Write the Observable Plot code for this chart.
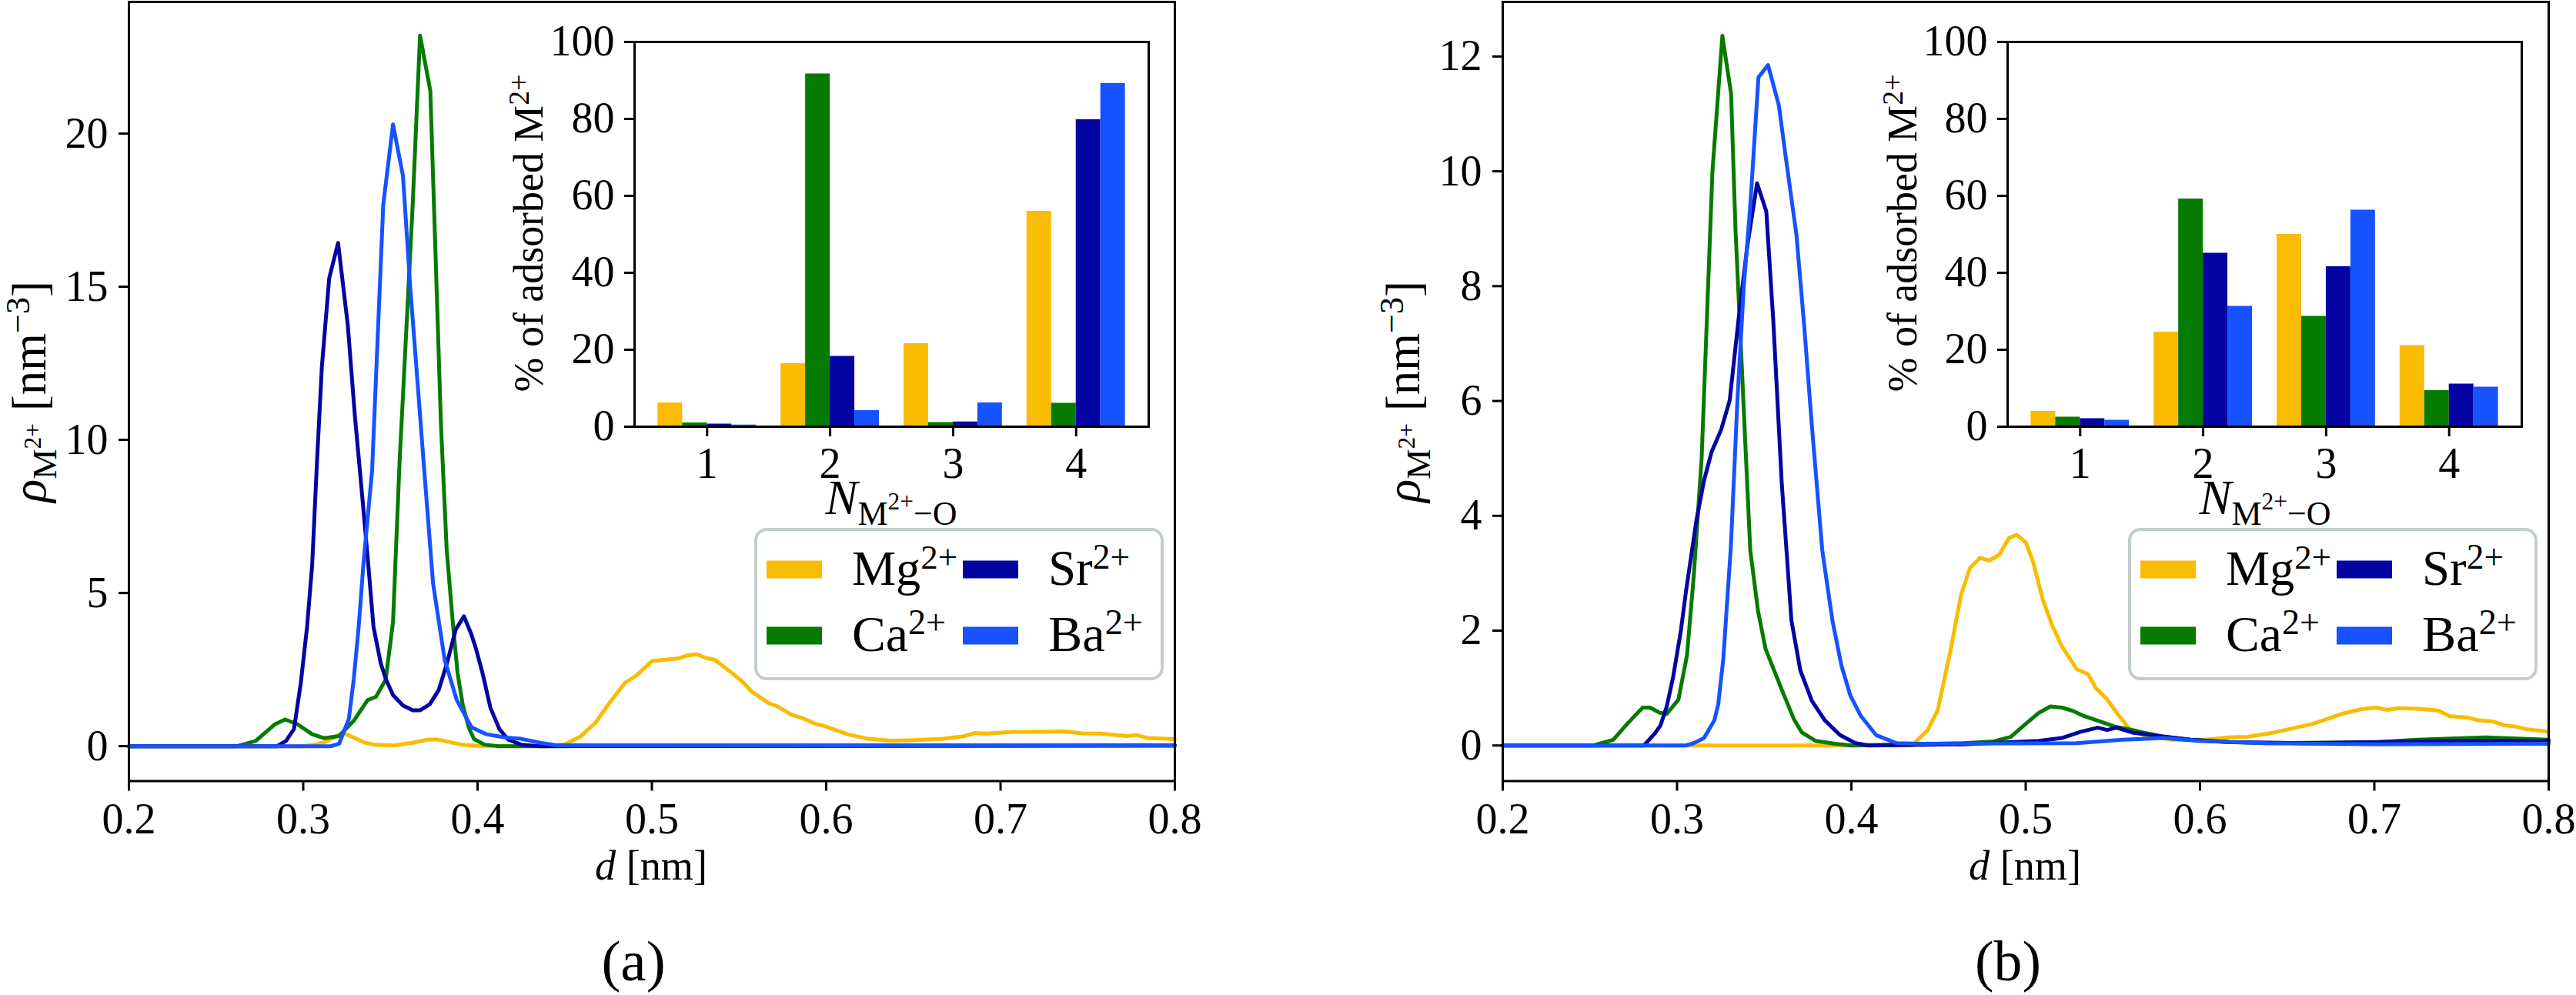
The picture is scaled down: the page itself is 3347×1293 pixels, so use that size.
<!DOCTYPE html>
<html>
<head>
<meta charset="utf-8">
<script src="https://cdn.jsdelivr.net/npm/d3@7"></script>
<script src="https://cdn.jsdelivr.net/npm/@observablehq/plot@0.6"></script>
<style>
  html, body { margin: 0; padding: 0; background: #fff; }
  #fig { position: relative; width: 3347px; height: 1293px; overflow: hidden; background: #fff; }
  #fig > svg { position: absolute; }
</style>
</head>
<body>
<div id="fig"></div>
<script>
// ---------------------------------------------------------------------------
// Ions and their colours
const ionNames = ["Mg2+", "Ca2+", "Sr2+", "Ba2+"];
const ionLabels = ["Mg", "Ca", "Sr", "Ba"];
const ionColors = ["#f9bc00", "#077a00", "#0404a3", "#1652ff"];

// Coordination numbers N(M2+-O) shown in the insets
const coordNumbers = [1, 2, 3, 4];

// Axis ticks
const dTicks = [0.2, 0.3, 0.4, 0.5, 0.6, 0.7, 0.8];
const rhoTicksA = [0, 5, 10, 15, 20];
const rhoTicksB = [0, 2, 4, 6, 8, 10, 12];
const shareTicks = [0, 20, 40, 60, 80, 100];

// ---------------------------------------------------------------------------
// Panel (a): density profiles rho(d), pairs of [d (nm), rho (nm^-3)]
const rhoA_Mg = [[0.200,0],[0.300,0],[0.306,0.05],[0.312,0.12],[0.318,0.30],[0.3234,0.42],[0.329,0.28],[0.335,0.12],[0.3403,0.05],[0.352,0.02],[0.3628,0.11],[0.3712,0.21],[0.3769,0.22],[0.3825,0.15],[0.391,0.05],[0.400,0.01],[0.440,0],[0.450,0.06],[0.4589,0.31],[0.4677,0.77],[0.4765,1.48],[0.4846,2.07],[0.4913,2.32],[0.5001,2.78],[0.5148,2.86],[0.5207,2.97],[0.5258,3.0],[0.531,2.88],[0.5361,2.82],[0.5457,2.4],[0.5511,2.15],[0.5573,1.78],[0.5671,1.4],[0.5715,1.31],[0.5804,1.02],[0.5866,0.91],[0.5937,0.73],[0.5981,0.67],[0.6123,0.39],[0.6229,0.25],[0.6371,0.18],[0.6513,0.2],[0.6672,0.24],[0.6797,0.33],[0.685,0.43],[0.6921,0.41],[0.7063,0.46],[0.7364,0.48],[0.747,0.42],[0.7577,0.41],[0.7718,0.33],[0.7781,0.36],[0.7843,0.27],[0.800,0.23]];
const rhoA_Ca = [[0.200,0],[0.262,0],[0.2727,0.17],[0.2839,0.72],[0.2896,0.87],[0.2966,0.72],[0.3051,0.39],[0.3121,0.26],[0.3205,0.33],[0.329,0.83],[0.3369,1.5],[0.3417,1.61],[0.3473,2.17],[0.3515,4.05],[0.3552,9.2],[0.3628,17.7],[0.367,23.2],[0.3729,21.4],[0.379,10.5],[0.3823,6.4],[0.386,3.9],[0.3885,2.4],[0.3915,1.35],[0.395,0.6],[0.398,0.23],[0.404,0.05],[0.412,0],[0.800,0.02]];
const rhoA_Sr = [[0.200,0],[0.285,0],[0.2901,0.17],[0.2947,0.56],[0.2986,2.06],[0.3022,3.9],[0.3051,5.9],[0.3079,9.3],[0.3107,12.4],[0.3149,15.28],[0.320,16.43],[0.3256,13.72],[0.3296,10.8],[0.3341,8.0],[0.3375,5.8],[0.3403,3.9],[0.3445,2.7],[0.3473,2.2],[0.3515,1.67],[0.3572,1.33],[0.3628,1.17],[0.367,1.17],[0.3726,1.37],[0.3777,1.83],[0.3825,2.72],[0.3875,3.81],[0.3922,4.24],[0.3963,3.67],[0.399,3.2],[0.403,2.35],[0.4074,1.25],[0.4125,0.56],[0.4177,0.21],[0.425,0.05],[0.435,0],[0.800,0.02]];
const rhoA_Ba = [[0.200,0],[0.316,0],[0.3206,0.08],[0.3262,0.9],[0.329,2.2],[0.3318,3.9],[0.3346,6.0],[0.3395,9.0],[0.3459,17.68],[0.3515,20.3],[0.3572,18.62],[0.3614,14.97],[0.3656,11.85],[0.3698,8.72],[0.3745,5.3],[0.3811,2.83],[0.3881,1.5],[0.3966,0.61],[0.405,0.39],[0.4163,0.28],[0.425,0.24],[0.436,0.11],[0.445,0.03],[0.800,0.02]];

// Panel (b): density profiles rho(d)
const rhoB_Mg = [[0.200,0],[0.435,0],[0.4381,0.1],[0.4436,0.26],[0.4495,0.61],[0.4569,1.66],[0.4628,2.61],[0.468,3.09],[0.4738,3.27],[0.479,3.22],[0.4848,3.32],[0.4903,3.61],[0.4947,3.67],[0.500,3.54],[0.5044,3.18],[0.5098,2.54],[0.5152,2.09],[0.5207,1.73],[0.5293,1.33],[0.5359,1.24],[0.5402,1.0],[0.5467,0.8],[0.5532,0.53],[0.5598,0.28],[0.5684,0.17],[0.5836,0.1],[0.6031,0.1],[0.6162,0.14],[0.627,0.15],[0.640,0.21],[0.6487,0.27],[0.6639,0.37],[0.6748,0.48],[0.6813,0.55],[0.6921,0.63],[0.7008,0.66],[0.7073,0.62],[0.7139,0.65],[0.7247,0.64],[0.7366,0.61],[0.7432,0.51],[0.7529,0.49],[0.7594,0.44],[0.7681,0.42],[0.7746,0.35],[0.781,0.33],[0.7876,0.28],[0.800,0.24]];
const rhoB_Ca = [[0.200,0],[0.252,0],[0.2634,0.1],[0.2718,0.39],[0.2803,0.66],[0.2845,0.66],[0.2901,0.57],[0.2941,0.55],[0.3008,0.8],[0.3057,1.57],[0.3096,2.96],[0.3141,5.0],[0.3203,10.0],[0.326,12.36],[0.331,11.35],[0.3335,9.0],[0.3361,7.3],[0.3391,5.3],[0.342,3.4],[0.3464,2.35],[0.3508,1.68],[0.3597,1.0],[0.367,0.46],[0.3715,0.23],[0.3795,0.08],[0.3906,0.03],[0.400,0],[0.4643,0.04],[0.4816,0.07],[0.4914,0.15],[0.499,0.35],[0.5076,0.57],[0.5142,0.68],[0.5207,0.66],[0.5272,0.6],[0.5337,0.51],[0.5424,0.42],[0.5511,0.33],[0.5598,0.28],[0.5684,0.22],[0.5793,0.15],[0.5945,0.1],[0.6162,0.06],[0.638,0.04],[0.703,0.06],[0.7247,0.1],[0.7638,0.14],[0.800,0.1]];
const rhoB_Sr = [[0.200,0],[0.281,0],[0.2831,0.07],[0.2875,0.22],[0.2905,0.35],[0.2941,0.68],[0.2978,1.2],[0.3022,2.0],[0.3052,2.7],[0.3111,3.92],[0.3155,4.62],[0.3199,5.12],[0.3253,5.5],[0.3302,6.01],[0.3352,7.4],[0.3403,8.7],[0.3459,9.79],[0.3512,9.3],[0.3552,7.4],[0.360,4.6],[0.3656,2.18],[0.3707,1.31],[0.3773,0.78],[0.3847,0.44],[0.3935,0.18],[0.4024,0.04],[0.410,0],[0.4643,0.02],[0.5076,0.08],[0.5207,0.13],[0.5316,0.24],[0.5413,0.31],[0.5467,0.27],[0.5521,0.31],[0.5619,0.22],[0.5749,0.17],[0.5945,0.1],[0.6162,0.06],[0.660,0.04],[0.7464,0.08],[0.800,0.08]];
const rhoB_Ba = [[0.200,0],[0.305,0],[0.3096,0.04],[0.3155,0.13],[0.3214,0.44],[0.3236,0.71],[0.3265,1.5],[0.3309,3.48],[0.3346,6.0],[0.3383,8.0],[0.342,9.4],[0.3467,11.64],[0.3522,11.85],[0.3584,11.15],[0.3626,10.19],[0.3685,8.89],[0.3729,7.32],[0.3773,5.58],[0.3833,3.4],[0.3891,2.18],[0.3943,1.39],[0.3994,0.87],[0.4053,0.52],[0.4142,0.18],[0.426,0.04],[0.440,0.03],[0.5293,0.04],[0.5554,0.1],[0.5793,0.13],[0.5988,0.08],[0.6378,0.04],[0.700,0.02],[0.800,0.03]];

// Insets: % of adsorbed ions with N = 1, 2, 3, 4 oxygen neighbours
const shareA_Mg = [6.2, 16.4, 21.6, 56.0];
const shareA_Ca = [1.0, 91.7, 1.1, 6.1];
const shareA_Sr = [0.7, 18.3, 1.25, 79.8];
const shareA_Ba = [0.45, 4.2, 6.2, 89.2];

const shareB_Mg = [4.0, 24.6, 50.0, 21.1];
const shareB_Ca = [2.5, 59.2, 28.7, 9.4];
const shareB_Sr = [2.1, 45.1, 41.6, 11.1];
const shareB_Ba = [1.7, 31.3, 56.3, 10.3];

// ---------------------------------------------------------------------------
const FONT = '"Liberation Serif", "DejaVu Serif", serif';
const FS = 56;
const fig = document.getElementById("fig");

function place(el, left, top) {
  el.style.left = left + "px";
  el.style.top = top + "px";
  fig.appendChild(el);
}

// Main axes: density profiles as lines
function densityPanel(series, yDomain, yTicks, left) {
  const rows = series.flatMap((pts, i) => pts.map(([d, rho]) => ({ion: ionNames[i], d, rho})));
  const svg = Plot.plot({
    width: 1560, height: 1100,
    marginLeft: 167, marginRight: 34, marginTop: 2, marginBottom: 85.5,
    style: {fontFamily: FONT, fontSize: FS + "px", color: "black", background: "transparent", overflow: "visible"},
    x: {domain: [0.2, 0.8]},
    y: {domain: yDomain},
    color: {domain: ionNames, range: ionColors},
    marks: [
      Plot.line(rows, {x: "d", y: "rho", z: "ion", stroke: "ion", strokeWidth: 5, strokeLinejoin: "round"}),
      Plot.frame({stroke: "black", strokeWidth: 3}),
      Plot.axisX({ticks: dTicks, tickFormat: d3.format(".1f"), tickSize: 13, tickPadding: 15, stroke: "black", strokeWidth: 3, fontSize: FS, label: null}),
      Plot.axisY({ticks: yTicks, tickFormat: d3.format("d"), tickSize: 13, tickPadding: 14, stroke: "black", strokeWidth: 3, fontSize: FS, label: null})
    ]
  });
  place(svg, left, 0);
}

// Inset axes: grouped bars, four ions per coordination number
const barOffset = [-0.3, -0.1, 0.1, 0.3];
function sharePanel(shares, left) {
  const rows = shares.flatMap((vals, i) => vals.map((pct, j) => ({ion: ionNames[i], k: i, n: coordNumbers[j], pct})));
  const svg = Plot.plot({
    width: 820, height: 680,
    marginLeft: 124, marginRight: 28, marginTop: 54, marginBottom: 126,
    style: {fontFamily: FONT, fontSize: FS + "px", color: "black", background: "transparent", overflow: "visible"},
    x: {domain: [0.41, 4.59]},
    y: {domain: [0, 100]},
    color: {domain: ionNames, range: ionColors},
    marks: [
      Plot.rect(rows, {
        x1: d => d.n + barOffset[d.k] - 0.1,
        x2: d => d.n + barOffset[d.k] + 0.1,
        y1: () => 0, y2: "pct", fill: "ion", inset: 0
      }),
      Plot.frame({stroke: "black", strokeWidth: 3}),
      Plot.axisX({ticks: coordNumbers, tickFormat: d3.format("d"), tickSize: 13, tickPadding: 14, stroke: "black", strokeWidth: 3, fontSize: FS, label: null}),
      Plot.axisY({ticks: shareTicks, tickFormat: d3.format("d"), tickSize: 13, tickPadding: 13, stroke: "black", strokeWidth: 3, fontSize: FS, label: null})
    ]
  });
  place(svg, left, 0);
}

densityPanel([rhoA_Mg, rhoA_Ca, rhoA_Sr, rhoA_Ba], [-1.14, 24.3], rhoTicksA, 0);
densityPanel([rhoB_Mg, rhoB_Ca, rhoB_Sr, rhoB_Ba], [-0.62, 12.95], rhoTicksB, 1785);
sharePanel([shareA_Mg, shareA_Ca, shareA_Sr, shareA_Ba], 700);
sharePanel([shareB_Mg, shareB_Ca, shareB_Sr, shareB_Ba], 2484);

// ---------------------------------------------------------------------------
// Labels with sub- and superscripts, legends and panel captions
const overlay = d3.create("svg")
  .attr("width", 3347).attr("height", 1293)
  .style("left", "0px").style("top", "0px")
  .style("font-family", FONT).style("pointer-events", "none");
fig.appendChild(overlay.node());

const runKinds = {
  n: {scale: 1, shift: 0},
  i: {scale: 1, shift: 0, italic: true},
  sub: {scale: 0.7, shift: 0.22},
  subsup: {scale: 0.5, shift: -0.1},
  sup: {scale: 0.7, shift: -0.33}
};

// Draws a text made of runs; when `fit` is given the font size is chosen
// so that the whole text spans that many pixels.
function richText(x, y, runs, {size = FS, anchor = "middle", rotate = 0, fit = null} = {}) {
  const t = overlay.append("text")
    .attr("x", x).attr("y", y)
    .attr("text-anchor", anchor)
    .attr("fill", "black");
  if (rotate) t.attr("transform", `rotate(${rotate},${x},${y})`);
  const spans = runs.map(([txt, kind]) => {
    const spec = runKinds[kind];
    const s = t.append("tspan").text(txt);
    if (spec.italic) s.style("font-style", "italic");
    return [s, spec];
  });
  const apply = (sz) => {
    let shift = 0;
    for (const [s, spec] of spans) {
      s.style("font-size", (sz * spec.scale).toFixed(2) + "px")
       .attr("dy", ((spec.shift - shift) * sz).toFixed(2));
      shift = spec.shift;
    }
  };
  apply(size);
  if (fit) {
    const len = t.node().getComputedTextLength();
    if (len > 0) {
      const sz = Math.max(40, Math.min(75, size * fit / len));
      apply(sz);
    }
  }
  return t;
}

function panelText(dx, caption) {
  // main y label: rho_{M2+} [nm^-3]
  richText(59 + dx, 509, [["ρ", "i"], ["M", "sub"], ["2+", "subsup"], [" [nm", "n"], ["−3", "sup"], ["]", "n"]], {rotate: -90, fit: 288});
  // main x label: d [nm]
  richText(846 + dx, 1143, [["d", "i"], [" [nm]", "n"]], {fit: 146});
  // inset y label
  richText(705 + dx, 303, [["% of adsorbed M", "n"], ["2+", "sup"]], {rotate: -90, fit: 413});
  // inset x label: N_{M2+ - O}
  richText(1158 + dx, 668, [["N", "i"], ["M", "sub"], ["2+", "subsup"], ["−O", "sub"]], {fit: 171});
  // caption
  richText((dx ? 2609 : 823), 1274, [[caption, "n"]], {size: 70, fit: 86});

  // legend, two columns filled column-wise
  const bx = 982 + dx, by = 688;
  overlay.append("rect")
    .attr("x", bx).attr("y", by).attr("width", 528).attr("height", 194)
    .attr("rx", 14).attr("fill", "white").attr("fill-opacity", 0.8)
    .attr("stroke", "#c3cdcd").attr("stroke-width", 4);
  const fits = [137, 122, 106, 123];
  ionNames.forEach((name, i) => {
    const col = Math.floor(i / 2), row = i % 2;
    const px = bx + 14 + col * 255;
    const cy = by + 52 + row * 86;
    overlay.append("rect")
      .attr("x", px).attr("y", cy - 11.5).attr("width", 72).attr("height", 23)
      .attr("fill", ionColors[i]);
    richText(px + 111, cy + 20, [[ionLabels[i], "n"], ["2+", "sup"]], {anchor: "start", fit: fits[i]});
  });
}
panelText(0, "(a)");
panelText(1785, "(b)");
</script>
</body>
</html>
